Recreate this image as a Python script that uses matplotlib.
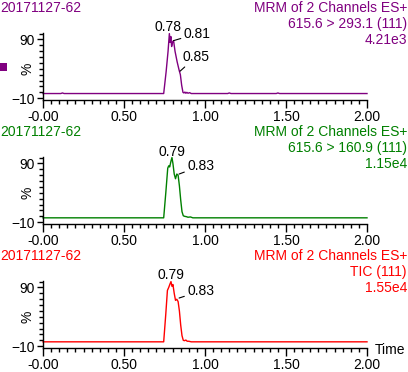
import matplotlib.pyplot as plt
from matplotlib.patches import Rectangle
from matplotlib.ticker import FixedLocator, MultipleLocator

plt.rcParams['font.family'] = ['Liberation Sans', 'DejaVu Sans']
plt.rcParams['font.size'] = 10

# ── DATA ──────────────────────────────────────────────────
SAMPLE = "20171127-62"
HEADERS = [
    ["MRM of 2 Channels ES+", "615.6 > 293.1 (111)", "4.21e3"],
    ["MRM of 2 Channels ES+", "615.6 > 160.9 (111)", "1.15e4"],
    ["MRM of 2 Channels ES+", "TIC (111)", "1.55e4"],
]
COLORS = ["#800080", "#008000", "#ff0000"]

t_purple = [0.00, 0.11, 0.12, 0.13, 0.745, 0.760, 0.772, 0.780, 0.785, 0.789, 0.794,
            0.800, 0.806, 0.815, 0.828, 0.840, 0.848, 0.856, 0.864, 0.870, 0.876,
            0.882, 0.888, 0.895, 0.905, 0.915, 0.930, 1.14, 1.15, 1.16, 1.44, 1.45,
            1.46, 2.00]
i_purple = [-2, -2, -1, -2, -2, 35, 70, 100, 85, 95, 78,
            86, 88, 70, 52, 38, 30, 12, 0, -1, 0.5,
            -1.5, 0, -1.5, -0.5, -2, -2, -2, -1, -2, -2, -1,
            -2, -2]

t_green = [0.00, 0.745, 0.758, 0.770, 0.776, 0.782, 0.790, 0.796, 0.802, 0.810, 0.818,
           0.826, 0.834, 0.842, 0.850, 0.858, 0.866, 0.875, 0.885, 0.895, 0.910,
           0.925, 2.00]
i_green = [-2.5, -2.5, 40, 82, 86, 84, 94, 100, 90, 72, 64,
           72, 70, 52, 28, 8, 1, 0, -0.5, -1.5, -1,
           -2.5, -2.5]

t_red = [0.00, 0.745, 0.758, 0.768, 0.776, 0.784, 0.790, 0.796, 0.802, 0.810, 0.818,
         0.826, 0.834, 0.842, 0.850, 0.858, 0.866, 0.874, 0.882, 0.890, 0.900,
         0.915, 2.00]
i_red = [-2.5, -2.5, 45, 85, 90, 96, 100, 92, 95, 80, 68,
         70, 66, 50, 26, 8, 0, -0.5, 0.5, -1.5, -1.5,
         -2.5, -2.5]

TRACES = [(t_purple, i_purple), (t_green, i_green), (t_red, i_red)]

# peak labels: (time, intensity, text, dx px, dy px, leader line)
PEAKS = [
    [(0.780, 100, "0.78", -1, 7, False), (0.806, 88, "0.81", 10, 7, True),
     (0.846, 36, "0.85", 2, 14, True)],
    [(0.796, 100, "0.79", 0, 6, False), (0.840, 72, "0.83", 8, 8, True)],
    [(0.790, 100, "0.79", 0, 7, False), (0.840, 72, "0.83", 8, 7, True)],
]

X_TICKS = [0.0, 0.5, 1.0, 1.5, 2.0]
X_LABELS = ["-0.00", "0.50", "1.00", "1.50", "2.00"]
Y_TICKS = [-10, 90]

# ── LAYOUT (pixels) ───────────────────────────────────────
W, H = 408, 372
PANEL_TOPS = [33, 157, 281]
PANEL_BOTTOMS = [100, 224, 348]
HEADER_Y = [0, 124, 248]

fig = plt.figure(figsize=(W / 100, H / 100), dpi=100)


def fy(y):
    return 1 - y / H


for k in range(3):
    top, bottom = PANEL_TOPS[k], PANEL_BOTTOMS[k]
    ax = fig.add_axes([43 / W, fy(bottom), (367 - 43) / W, (bottom - top) / H])
    t, inten = TRACES[k]
    ax.plot(t, inten, color=COLORS[k], lw=1.0, clip_on=False)
    ax.set_xlim(0, 2)
    ax.set_ylim(-13, 101)

    for side in ["top", "right"]:
        ax.spines[side].set_visible(False)
    ax.spines["left"].set_linewidth(1.0)
    ax.spines["bottom"].set_linewidth(1.0)

    ax.set_xticks(X_TICKS)
    ax.set_xticklabels(X_LABELS)
    ax.xaxis.set_minor_locator(MultipleLocator(0.05))
    ax.yaxis.set_major_locator(FixedLocator(Y_TICKS))
    ax.yaxis.set_minor_locator(MultipleLocator(10))
    ax.tick_params(axis="x", which="major", length=6, width=1, pad=1, labelsize=10)
    ax.tick_params(axis="x", which="minor", length=3, width=1)
    ax.tick_params(axis="y", which="major", length=4, width=1, pad=2, labelsize=10)
    ax.tick_params(axis="y", which="minor", length=3, width=1)
    ax.patch.set_alpha(0)

    ax.annotate("%", xy=(0, 40), xycoords=("axes fraction", "data"),
                xytext=(-15, 0), textcoords="offset pixels",
                rotation=90, ha="center", va="center", fontsize=10)

    for (pt, pv, txt, dx, dy, leader) in PEAKS[k]:
        if leader:
            ax.annotate(txt, xy=(pt, pv), xytext=(dx, dy), textcoords="offset pixels",
                        ha="left", va="center", fontsize=10,
                        arrowprops=dict(arrowstyle="-", color="black", lw=0.8,
                                        shrinkA=0, shrinkB=0))
        else:
            ax.annotate(txt, xy=(pt, pv), xytext=(dx, dy), textcoords="offset pixels",
                        ha="center", va="center", fontsize=10)

    # header texts
    hy = HEADER_Y[k]
    fig.text(0, fy(hy + 8), SAMPLE, color=COLORS[k], ha="left", va="center", fontsize=10)
    for j, line in enumerate(HEADERS[k]):
        fig.text(407 / W, fy(hy + 8 + 16 * j), line, color=COLORS[k],
                 ha="right", va="center", fontsize=10)

# purple marker square on the first trace
fig.patches.append(Rectangle((0, fy(71)), 7 / W, 8 / H, transform=fig.transFigure,
                             facecolor=COLORS[0], edgecolor="none"))

fig.text(375 / W, fy(350), "Time", ha="left", va="center", fontsize=10)

plt.savefig("out.png", dpi=100)
